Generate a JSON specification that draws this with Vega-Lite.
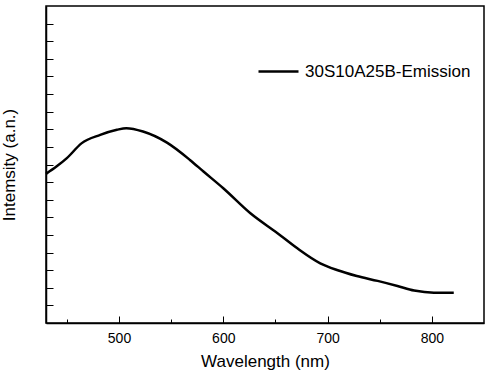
{
  "$schema": "https://vega.github.io/schema/vega-lite/v6.json",
  "width": 438,
  "height": 317,
  "autosize": "none",
  "padding": {"left": 46, "top": 6, "right": 13, "bottom": 52},
  "background": "white",
  "config": {
    "view": {"stroke": "black", "strokeWidth": 1.5},
    "font": "Liberation Sans",
    "axis": {"grid": false, "domainColor": "black", "domainWidth": 1.5, "tickColor": "black", "tickWidth": 1, "labelColor": "black", "titleColor": "black", "titleFontWeight": "normal"}
  },
  "data": {
    "values": [
      {"wavelength": 430, "intensity": 8.47},
      {"wavelength": 440, "intensity": 8.88},
      {"wavelength": 450, "intensity": 9.36},
      {"wavelength": 464, "intensity": 10.2},
      {"wavelength": 482, "intensity": 10.68},
      {"wavelength": 498, "intensity": 10.97},
      {"wavelength": 507, "intensity": 11.06},
      {"wavelength": 523, "intensity": 10.87},
      {"wavelength": 546, "intensity": 10.24},
      {"wavelength": 568, "intensity": 9.26},
      {"wavelength": 581, "intensity": 8.6},
      {"wavelength": 600, "intensity": 7.65},
      {"wavelength": 626, "intensity": 6.23},
      {"wavelength": 652, "intensity": 5.1},
      {"wavelength": 671, "intensity": 4.24},
      {"wavelength": 693, "intensity": 3.39},
      {"wavelength": 709, "intensity": 3.01},
      {"wavelength": 728, "intensity": 2.67},
      {"wavelength": 748, "intensity": 2.39},
      {"wavelength": 767, "intensity": 2.1},
      {"wavelength": 783, "intensity": 1.84},
      {"wavelength": 802, "intensity": 1.72},
      {"wavelength": 821, "intensity": 1.72}
    ]
  },
  "mark": {"type": "line", "strokeWidth": 2.5, "interpolate": "monotone"},
  "encoding": {
    "x": {
      "field": "wavelength",
      "type": "quantitative",
      "scale": {"domain": [430, 850], "nice": false, "zero": false},
      "axis": {
        "title": "Wavelength (nm)",
        "values": [450, 500, 550, 600, 650, 700, 750, 800],
        "labelExpr": "datum.value % 100 === 0 ? datum.label : ''",
        "tickSize": {"condition": {"test": "datum.value % 100 === 0", "value": -7}, "value": -4},
        "labelPadding": 15,
        "labelFontSize": 14,
        "titleFontSize": 17,
        "titlePadding": 8
      }
    },
    "y": {
      "field": "intensity",
      "type": "quantitative",
      "scale": {"domain": [0, 18], "nice": false},
      "axis": {
        "title": "Intemsity (a.n.)",
        "values": [1, 2, 3, 4, 5, 6, 7, 8, 9, 10, 11, 12, 13, 14, 15, 16, 17],
        "labels": false,
        "tickSize": -7,
        "titleFontSize": 17,
        "titlePadding": 27
      }
    },
    "color": {
      "datum": "30S10A25B-Emission",
      "type": "nominal",
      "scale": {"range": ["black"]},
      "legend": {
        "title": null,
        "orient": "none",
        "legendX": 211,
        "legendY": 44,
        "padding": 0,
        "symbolType": "stroke",
        "symbolSize": 1600,
        "symbolStrokeWidth": 2.5,
        "labelFontSize": 17,
        "labelColor": "black",
        "labelOffset": 5,
        "labelLimit": 300
      }
    }
  }
}
